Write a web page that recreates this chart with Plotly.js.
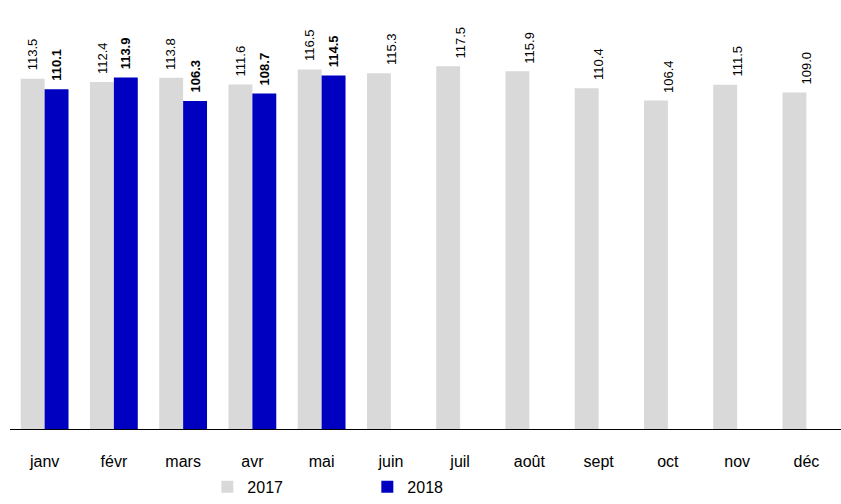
<!DOCTYPE html>
<html><head><meta charset="utf-8">
<script src="https://cdn.plot.ly/plotly-3.0.1.min.js"></script>
<style>body{margin:0}</style></head>
<body><div id="graphDiv" style="width:841px;height:504px"></div>
<script>
var months = ['janv','févr','mars','avr','mai','juin','juil','août','sept','oct','nov','déc'];
var v2017 = [113.5,112.4,113.8,111.6,116.5,115.3,117.5,115.9,110.4,106.4,111.5,109.0];
var v2018 = [110.1,113.9,106.3,108.7,114.5];

var trace1 = {
  x: months, y: v2017, type: 'bar', name: '2017',
  marker: {color: '#d9d9d9'}
};
var trace2 = {
  x: months.slice(0, v2018.length), y: v2018, type: 'bar', name: '2018',
  marker: {color: '#0000c0'}
};

// value labels above bars
var annotations = [];
v2017.forEach(function(v, i){
  annotations.push({x: months[i], y: v, xref: 'x', yref: 'y', text: v.toFixed(1),
    textangle: -90, showarrow: false, yanchor: 'bottom', yshift: 6,
    xshift: i < v2018.length ? -12 : 0, font: {size: 13}});
});
v2018.forEach(function(v, i){
  annotations.push({x: months[i], y: v, xref: 'x', yref: 'y', text: '<b>' + v.toFixed(1) + '</b>',
    textangle: -90, showarrow: false, yanchor: 'bottom', yshift: 6,
    xshift: 12, font: {size: 13}});
});

var layout = {
  width: 841, height: 504,
  margin: {l: 10, r: 0, t: 0, b: 62},
  barmode: 'group', bargap: 0.31, bargroupgap: 0,
  font: {family: 'Arial, Liberation Sans', size: 13, color: '#000'},
  xaxis: {showline: true, linecolor: '#000', linewidth: 1, ticks: '', fixedrange: true,
          tickfont: {size: 16}, ticklabelstandoff: 18, automargin: false},
  yaxis: {range: [0, 139], visible: false, showgrid: false},
  annotations: annotations,
  showlegend: true,
  legend: {orientation: 'h', x: 0.43, xanchor: 'center', y: -0.095, yanchor: 'top',
           font: {size: 16}, itemwidth: 30, entrywidth: 115, traceorder: 'normal'},
  plot_bgcolor: '#fff', paper_bgcolor: '#fff'
};

Plotly.newPlot('graphDiv', [trace1, trace2], layout, {displayModeBar: false});
</script></body></html>
